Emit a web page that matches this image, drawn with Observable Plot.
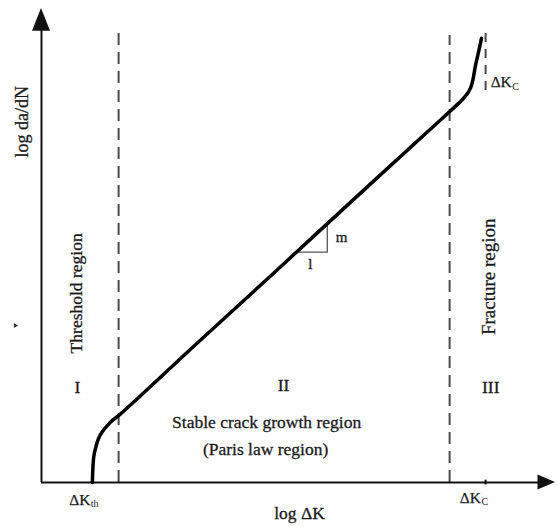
<!DOCTYPE html>
<html>
<head>
<meta charset="utf-8">
<script src="https://cdn.jsdelivr.net/npm/d3@7"></script>
<script src="https://cdn.jsdelivr.net/npm/@observablehq/plot@0.6"></script>
<style>
  html, body { margin: 0; padding: 0; background: #fff; }
  #chart svg { display: block; }
</style>
</head>
<body>
<div id="chart"></div>
<script>
// Schematic crack-growth curve: log da/dN versus log ΔK (arbitrary log units)
const curveLogDK = [0.99, 1.00, 1.02, 1.06, 1.11, 1.19, 1.28, 1.38, 1.50, 3.00, 4.50, 6.00, 7.50, 8.19, 8.29, 8.35, 8.39, 8.44, 8.50, 8.56];
const curveLogDadN = [0.00, 0.30, 0.57, 0.76, 0.93, 1.08, 1.20, 1.31, 1.41, 2.91, 4.40, 5.90, 7.39, 8.08, 8.21, 8.33, 8.48, 8.78, 9.07, 9.37];

// Region boundaries (log ΔK) and where each dashed divider tops out
const dividerLogDK = [1.50, 7.94];
const dividerTop = [9.58, 9.43];

// Critical ΔK marker near the top of the curve
const criticalLogDK = 8.64;
const criticalSpan = [8.27, 9.49];

// Slope triangle on the Paris-law segment
const slopeRun = [4.98, 5.56];
const slopeRise = [4.86, 5.44];

// Text annotations
const labels = [
  {text: "log da/dN", x: -0.37, y: 7.61, rotate: -90, size: 18},
  {text: "Threshold region", x: 0.68, y: 3.99, rotate: -90, size: 17.5},
  {text: "Fracture region", x: 8.70, y: 4.34, rotate: -90, size: 19},
  {text: "I", x: 0.70, y: 2.00, rotate: 0, size: 17.5},
  {text: "II", x: 4.71, y: 2.05, rotate: 0, size: 17.5},
  {text: "III", x: 8.74, y: 2.00, rotate: 0, size: 17.5},
  {text: "Stable crack growth region", x: 4.38, y: 1.27, rotate: 0, size: 17.5},
  {text: "(Paris law region)", x: 4.36, y: 0.70, rotate: 0, size: 17.5},
  {text: "log ΔK", x: 5.02, y: -0.65, rotate: 0, size: 17.5},
  {text: "m", x: 5.84, y: 5.18, rotate: 0, size: 15},
  {text: "l", x: 5.23, y: 4.60, rotate: 0, size: 15}
];
// "ΔK" with subscripts
const deltaK = [
  {main: "ΔK", sub: "th", x: 0.95, y: -0.36},
  {main: "ΔK", sub: "C", x: 8.55, y: -0.32},
  {main: "ΔK", sub: "C", x: 9.15, y: 8.44}
];

const curve = curveLogDK.map((x, i) => ({x, y: curveLogDadN[i]}));
const dividers = dividerLogDK.map((x, i) => ({x, top: dividerTop[i]}));

const serif = "Liberation Serif, Times New Roman, serif";
const ink = "#1a1a1a";

const chart = Plot.plot({
  width: 558,
  height: 527,
  marginLeft: 41,
  marginRight: 3,
  marginTop: 8,
  marginBottom: 45,
  x: {domain: [0, 10], axis: null},
  y: {domain: [0, 10], axis: null},
  style: {fontFamily: serif, background: "#fff", overflow: "visible"},
  marks: [
    // dashed region dividers
    Plot.ruleX(dividers, {x: "x", y1: 0, y2: "top", stroke: "#4a4a4a", strokeWidth: 2, strokeDasharray: "12,7"}),
    Plot.ruleX([criticalLogDK], {y1: criticalSpan[0], y2: criticalSpan[1], stroke: "#4a4a4a", strokeWidth: 2, strokeDasharray: "9,7"}),
    // axes with filled arrowheads
    Plot.ruleX([0], {y1: 0, y2: 9.6, stroke: "#111", strokeWidth: 2}),
    Plot.ruleY([0], {x1: 0, x2: 9.7, stroke: "#111", strokeWidth: 2}),
    Plot.areaX([{y: 9.52, a: -0.175, b: 0.175}, {y: 10, a: 0, b: 0}], {y: "y", x1: "a", x2: "b", fill: "#111"}),
    Plot.areaY([{x: 9.66, a: -0.16, b: 0.16}, {x: 10, a: 0, b: 0}], {x: "x", y1: "a", y2: "b", fill: "#111"}),
    Plot.ruleX([criticalLogDK], {y1: -0.05, y2: 0.05, stroke: "#111", strokeWidth: 2}),
    // slope triangle
    Plot.line([
      {x: slopeRun[0], y: slopeRise[0]},
      {x: slopeRun[1], y: slopeRise[0]},
      {x: slopeRun[1], y: slopeRise[1]}
    ], {x: "x", y: "y", stroke: "#555", strokeWidth: 1.3}),
    // crack growth curve
    Plot.line(curve, {x: "x", y: "y", curve: "catmull-rom", stroke: "#000", strokeWidth: 3.5, strokeLinecap: "round"}),
    // small stray mark left of the axis
    Plot.dot([{x: -0.51, y: 3.31}], {x: "x", y: "y", symbol: "triangle", rotate: 90, r: 1.8, fill: "#333", stroke: null}),
    // text
    Plot.text(labels, {x: "x", y: "y", text: "text", rotate: "rotate", fontSize: "size", fill: ink, stroke: ink, strokeWidth: 0.3}),
    Plot.text(deltaK, {x: "x", y: "y", text: "main", fontSize: 15.5, fill: ink, stroke: ink, strokeWidth: 0.25, textAnchor: "end"}),
    Plot.text(deltaK, {x: "x", y: "y", text: "sub", fontSize: 10, dy: 4, dx: 0.5, fill: ink, textAnchor: "start"})
  ]
});

document.getElementById("chart").appendChild(chart);
</script>
</body>
</html>
